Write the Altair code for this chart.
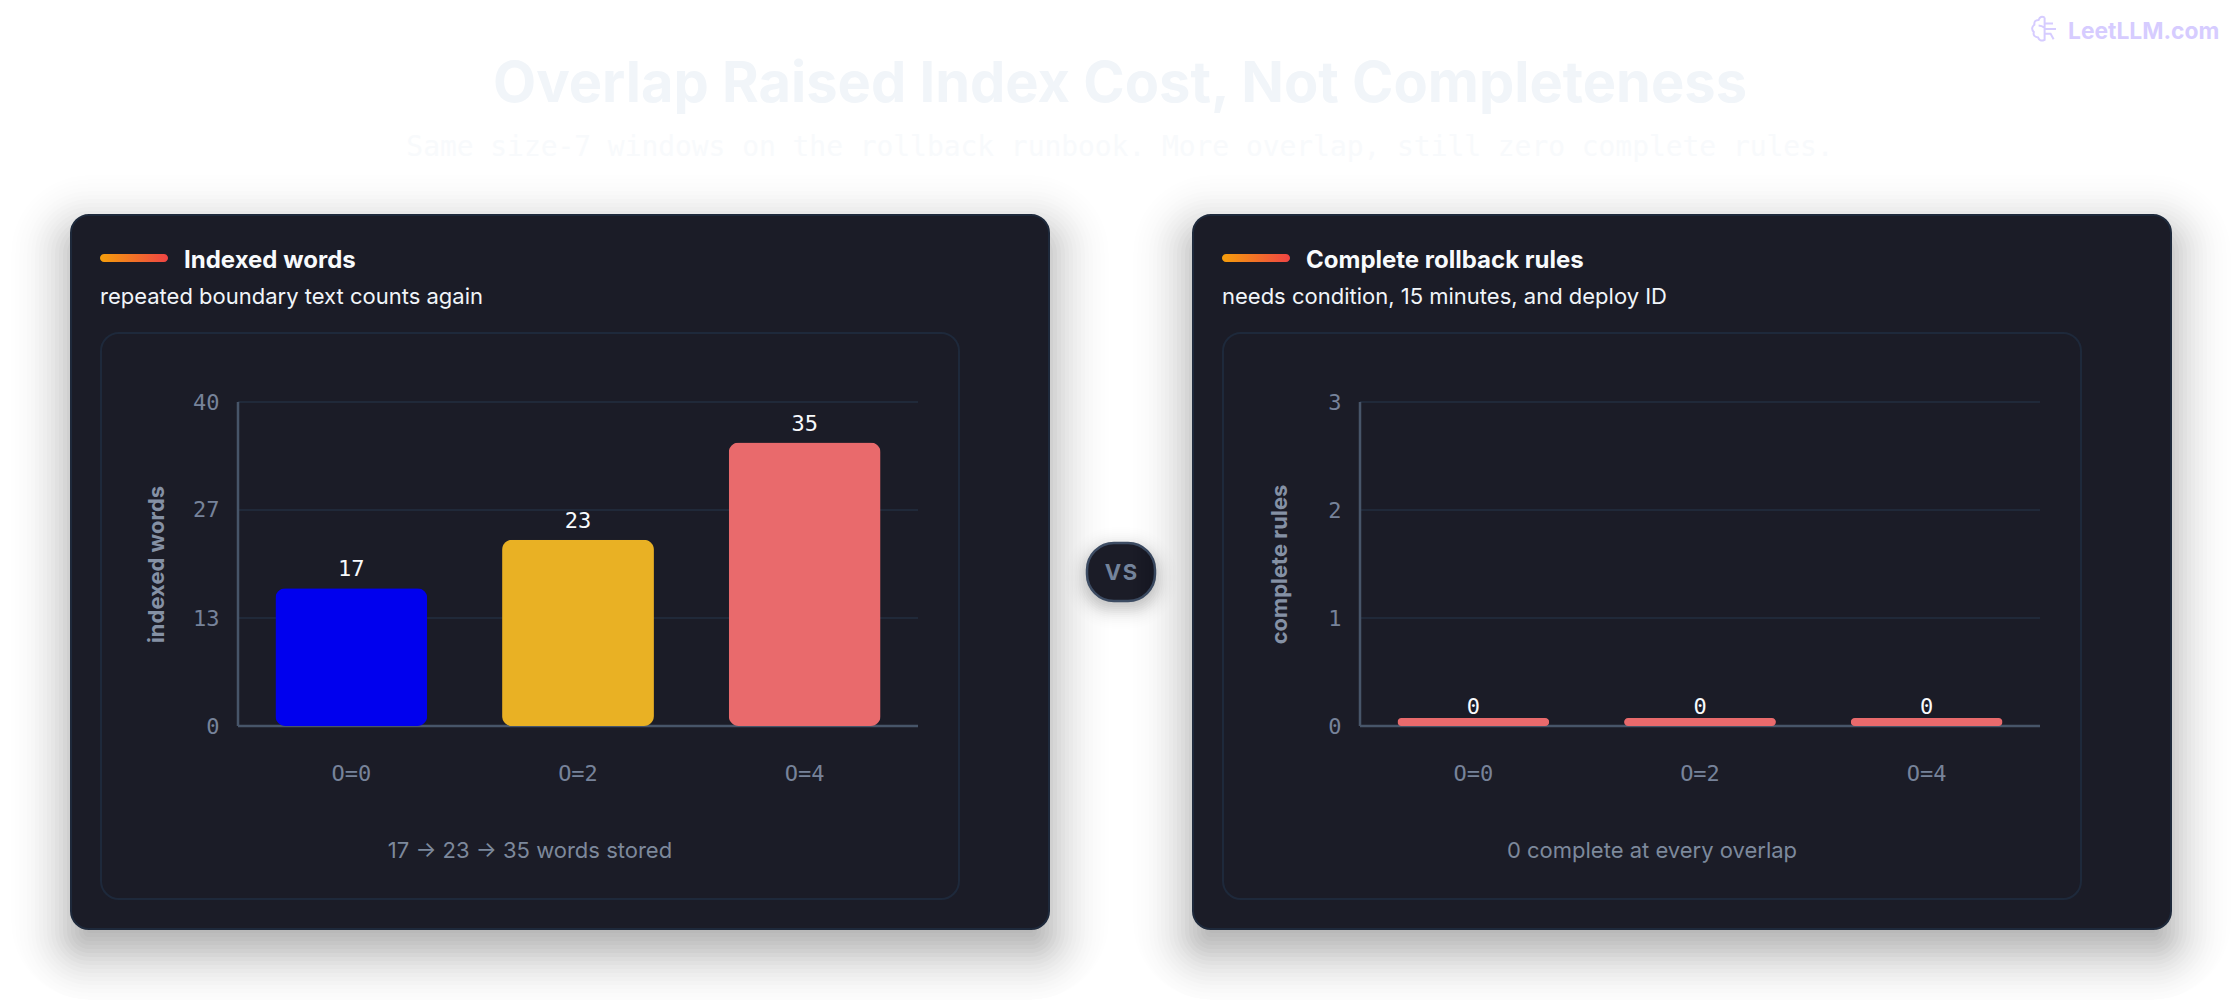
import math

import altair as alt
import pandas as pd

TITLE = "Overlap Raised Index Cost, Not Completeness"
SUBTITLE = "Same size-7 windows on the rollback runbook. More overlap, still zero complete rules."
BRAND = "LeetLLM.com"

categories = ["O=0", "O=2", "O=4"]
words_values = [17, 23, 35]
rules_values = [0, 0, 0]
words_colors = ["#0000ee", "#e9b124", "#e96a6c"]
rules_colors = ["#e96a6c", "#e96a6c", "#e96a6c"]
words_ticks = [0, 13.33, 26.67, 40]
rules_ticks = [0, 1, 2, 3]

PLOT_W, PLOT_H = 680, 324
PLOT_Y = 402
PAGE_BOTTOM = 1000
INTER = "Inter"
MONO = "DejaVu Sans Mono"
CARD = "#1b1c27"
EDGE = "#1e293b"
ONE = pd.DataFrame({"k": [0]})


def box(x1, y1, x2, y2, ox, fill=None, stroke=None, sw=0, r=0, op=1.0):
    kw = dict(cornerRadius=r, opacity=op)
    kw["fill"] = fill if fill else "transparent"
    if stroke:
        kw["stroke"] = stroke
        kw["strokeWidth"] = sw
    return alt.Chart(ONE).mark_rect(**kw).encode(
        x=alt.value(x1 - ox), x2=alt.value(x2 - ox),
        y=alt.value(y1 - PLOT_Y), y2=alt.value(y2 - PLOT_Y))


def label(s, x, y, ox, size, color, weight=400, font=INTER, align="left"):
    return alt.Chart(ONE).mark_text(
        text=s, fontSize=size, color=color, fontWeight=weight, font=font,
        align=align, baseline="alphabetic").encode(
        x=alt.value(x - ox), y=alt.value(y - PLOT_Y))


def shadow(x1, y1, x2, y2, ox, dy, sigma, step, r, alpha, reach):
    """Soft drop shadow: nested translucent boxes weighted like a gaussian blur."""
    out = []
    for s in range(reach, -reach - 1, -step):
        w = math.exp(-(s / sigma) ** 2 / 2) * step / (sigma * math.sqrt(2 * math.pi))
        each = 1 - (1 - alpha) ** w
        out.append(box(x1 - s, y1 + dy - s, x2 + s, min(y2 + dy + s, PAGE_BOTTOM), ox,
                       fill="#000000", r=max(r + s, 2), op=round(each, 4)))
    return out


def panel(ox, values, colors, ticks, head, sub, ytitle, foot, min_drawn, title_pad):
    data = pd.DataFrame({
        "cat": categories, "value": values, "color": colors,
        "drawn": [max(v, min_drawn) for v in values],
    })
    tick_df = pd.DataFrame({"tick": ticks})
    ymax = ticks[-1]
    yscale = alt.Scale(domain=[0, ymax], nice=False)
    xscale = alt.Scale(domain=categories, paddingInner=0.33, paddingOuter=0.165)
    xaxis = alt.Axis(
        title=None, labelAngle=0, domain=False, ticks=False, grid=False,
        labelFont=MONO, labelFontSize=22, labelColor="#77839a",
        labelPadding=37, zindex=1)
    yaxis = alt.Axis(
        title=ytitle, values=ticks, format=".0f", domain=False, ticks=False,
        grid=False, labelFont=MONO, labelFontSize=22, labelColor="#77839a",
        labelPadding=19, titleFont=INTER, titleFontSize=22, titleFontWeight=700,
        titleColor="#8591a5", titlePadding=title_pad, zindex=1)

    card_x1, card_x2 = ox - 167, ox + 811
    layers = shadow(card_x1, 215, card_x2, 929, ox, 20, 28, 4, 18, 0.33, 60)
    layers.append(box(card_x1, 215, card_x2, 929, ox, fill=CARD, stroke=EDGE, sw=2, r=18))
    layers.append(box(ox - 137, 333, ox + 721, 899, ox, fill=CARD, stroke=EDGE, sw=2, r=18))

    accent = alt.Gradient(gradient="linear", x1=0, x2=1, y1=0, y2=0,
                          stops=[alt.GradientStop(color="#f59e0b", offset=0),
                                 alt.GradientStop(color="#ef4444", offset=1)])
    layers.append(alt.Chart(ONE).mark_rect(fill=accent, cornerRadius=4).encode(
        x=alt.value(-138), x2=alt.value(-70),
        y=alt.value(254 - PLOT_Y), y2=alt.value(262 - PLOT_Y)))

    layers.append(label(head, ox - 54, 268, ox, 24, "#f8fafc", 700))
    layers.append(label(sub, ox - 138, 304, ox, 22, "#f1f5f9", 400))
    layers.append(label(foot, ox + 292, 858, ox, 22, "#7d899c", 400, align="center"))

    layers.append(alt.Chart(tick_df).mark_rule(color="#232e40", strokeWidth=1.5).encode(
        y=alt.Y("tick:Q", scale=yscale, axis=yaxis)))
    layers.append(alt.Chart(ONE).mark_rule(color="#475569", strokeWidth=2.5).encode(
        x=alt.value(0), y=alt.value(0), y2=alt.value(PLOT_H)))
    layers.append(alt.Chart(ONE).mark_rule(color="#475569", strokeWidth=2.5).encode(
        x=alt.value(0), x2=alt.value(PLOT_W), y=alt.value(PLOT_H)))

    bars = alt.Chart(data).mark_bar(cornerRadius=10).encode(
        x=alt.X("cat:N", scale=xscale, sort=categories, axis=xaxis),
        y=alt.Y("drawn:Q", scale=yscale, axis=yaxis),
        color=alt.Color("color:N", scale=None, legend=None),
    )
    texts = alt.Chart(data).mark_text(
        dy=-12, baseline="alphabetic", font=MONO, fontSize=22, color="#f8fafc").encode(
        x=alt.X("cat:N", scale=xscale, sort=categories, axis=xaxis),
        y=alt.Y("value:Q", scale=yscale, axis=yaxis),
        text=alt.Text("value:Q"),
    )
    layers += [bars, texts]
    return layers


LEFT_X, RIGHT_X = 238, 1360

left = panel(LEFT_X, words_values, words_colors, words_ticks, "Indexed words",
             "repeated boundary text counts again", "indexed words",
             "17 \u2192 23 \u2192 35 words stored", 0, 24)
right = panel(RIGHT_X, rules_values, rules_colors, rules_ticks, "Complete rollback rules",
              "needs condition, 15 minutes, and deploy ID", "complete rules",
              "0 complete at every overlap", 0.074, 36)

page = [box(8, 8, 2232, PAGE_BOTTOM, LEFT_X, fill="#ffffff")]
page.append(label(TITLE, 1120, 102, LEFT_X, 56, "#f1f5f9", 700, align="center"))
page.append(label(SUBTITLE, 1120, 156, LEFT_X, 27.9, "#f8fafc", 400, MONO, align="center"))
page.append(label(BRAND, 2068, 39, LEFT_X, 22.8, "#d6ccff", 700))
page.append(alt.Chart(ONE).mark_point(
    shape="M0.05,-0.95 Q-0.3,-1.15 -0.45,-0.75 Q-0.85,-0.75 -0.8,-0.35 Q-1.15,-0.1 -0.85,0.25 "
          "Q-0.95,0.65 -0.5,0.7 Q-0.35,1.1 0.05,0.9 L0.05,-0.95 "
          "M0.05,-0.45 L0.75,-0.45 M0.05,0 L1,0 M0.05,0.4 L0.55,0.4 L0.8,0.85 "
          "M-0.45,-0.3 Q-0.2,-0.3 0.05,-0.1",
    filled=False, stroke="#d6ccff", strokeWidth=2, size=576, opacity=1).encode(
    x=alt.value(2044 - LEFT_X), y=alt.value(29 - PLOT_Y)))

badge = shadow(1087, 543, 1155, 601, LEFT_X, 6, 10, 2, 26, 0.28, 24)
badge.append(box(1087, 543, 1155, 601, LEFT_X, fill=CARD, stroke="#3d4c63", sw=2.5, r=27))
badge.append(label("V\u200aS", 1121, 580, LEFT_X, 22, "#74849c", 700, align="center"))

left_chart = alt.layer(*(page + left + badge)).properties(width=PLOT_W, height=PLOT_H)
right_chart = alt.layer(*right).properties(width=PLOT_W, height=PLOT_H)

chart = alt.hconcat(left_chart, right_chart, spacing=RIGHT_X - LEFT_X - PLOT_W, bounds="flush").properties(
    padding=0, background="#ffffff"
).configure_view(stroke=None)

chart.save("out.html", embed_options={"renderer": "svg", "actions": False})
